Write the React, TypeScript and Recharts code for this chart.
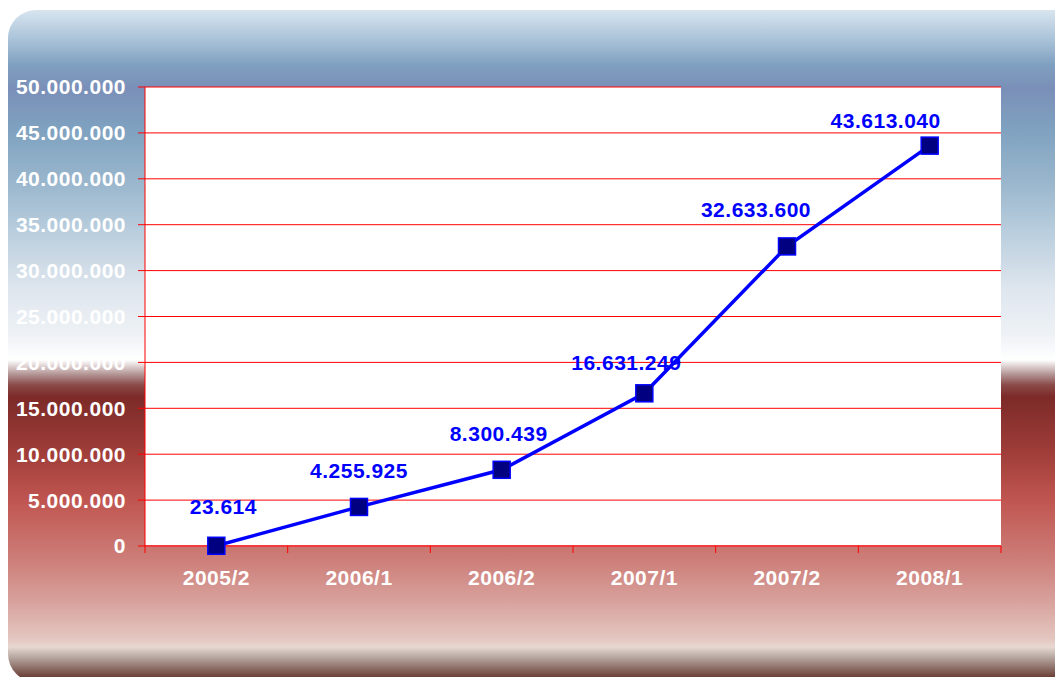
import { CartesianGrid, LabelList, Line, LineChart, XAxis, YAxis } from 'recharts'

const periods = ['2005/2', '2006/1', '2006/2', '2007/1', '2007/2', '2008/1']
const totals = [23614, 4255925, 8300439, 16631249, 32633600, 43613040]
const yTicks = [0, 5000000, 10000000, 15000000, 20000000, 25000000, 30000000, 35000000, 40000000, 45000000, 50000000]

const data = periods.map((p, i) => ({ period: p, total: totals[i] }))

const W = 1055
const H = 677
const PLOT_LEFT = 145
const PLOT_RIGHT = 1001
const BAND = (PLOT_RIGHT - PLOT_LEFT) / periods.length
const FONT = '"Liberation Sans", Arial, Helvetica, sans-serif'
const TEXT = { fontSize: 21, fontWeight: 'bold' as const, fontFamily: FONT, letterSpacing: 0.5 }

// excel put the labels a bit off-center, shift them by hand
const labelShift: [number, number][] = [
  [7, -39],
  [0, -36],
  [-3, -36],
  [-18, -31],
  [-31, -37],
  [-44, -25],
]

const fmt = (v: number) => String(v).replace(/\B(?=(\d{3})+(?!\d))/g, '.')

const bg =
  'linear-gradient(to bottom, #d8e5f0 0px, #a9c2d8 30px, #7fa0c0 55px, #7a8fb8 78px, #7fa2c0 120px, #98b5cc 170px, #b8cddd 220px, #dfe6ee 280px, #eef2f6 325px, #ffffff 350px, #b09090 365px, #8a4a48 375px, #7c2a28 387px, #9e3c38 440px, #c05550 490px, #cd7e79 550px, #d8a09b 590px, #e4c8c1 630px, #e8d8d2 637px, #b8a8a2 647px, #6a4038 667px, #5e3830 690px)'

function XTick(props: any) {
  const { x, y, payload, index } = props
  const last = index === periods.length - 1
  return (
    <g>
      <line x1={x - BAND / 2} x2={x - BAND / 2} y1={y} y2={y + 7} stroke="#ff0000" />
      {last && <line x1={x + BAND / 2} x2={x + BAND / 2} y1={y} y2={y + 7} stroke="#ff0000" />}
      <text x={x} y={y + 31} textAnchor="middle" dominantBaseline="central" fill="#ffffff" {...TEXT}>
        {payload.value}
      </text>
    </g>
  )
}

function SquareDot(props: any) {
  const { cx, cy } = props
  if (cx == null || cy == null) return null
  return <rect x={cx - 8.5} y={cy - 8.5} width={17} height={17} fill="#000080" stroke="#0000ff" strokeWidth={1.5} />
}

function ValueLabel(props: any) {
  const { x, y, value, index } = props
  const [dx, dy] = labelShift[index] || [0, -36]
  return (
    <text x={x + dx} y={y + dy} textAnchor="middle" dominantBaseline="central" fill="#0000ff" {...TEXT}>
      {fmt(value)}
    </text>
  )
}

export default function App() {
  return (
    <div style={{ position: 'absolute', left: 0, top: 0, width: W, height: H, overflow: 'hidden' }}>
      <div
        style={{
          position: 'absolute',
          left: 8,
          top: 10,
          width: 1075,
          height: 672,
          borderRadius: 28,
          background: bg,
        }}
      />
      <div style={{ position: 'absolute', left: 0, top: 0 }}>
        <LineChart width={W} height={H} data={data} margin={{ top: 87, right: W - PLOT_RIGHT, bottom: 91, left: 0 }}>
          <CartesianGrid vertical={false} stroke="#ff0000" fill="#ffffff" />
          <XAxis
            dataKey="period"
            scale="band"
            height={40}
            tickLine={false}
            tickSize={0}
            tickMargin={0}
            axisLine={{ stroke: '#f03c3c', strokeWidth: 2 }}
            tick={<XTick />}
            interval={0}
          />
          <YAxis
            width={PLOT_LEFT}
            domain={[0, 50000000]}
            ticks={yTicks}
            tickFormatter={fmt}
            tickSize={7}
            tickMargin={12}
            tickLine={{ stroke: '#ff0000' }}
            axisLine={{ stroke: '#ff0000' }}
            tick={{ fill: '#ffffff', ...TEXT }}
            interval={0}
          />
          <Line
            type="linear"
            dataKey="total"
            stroke="#0000ff"
            strokeWidth={3.5}
            dot={<SquareDot />}
            activeDot={false}
            isAnimationActive={false}
          >
            <LabelList dataKey="total" content={<ValueLabel />} />
          </Line>
        </LineChart>
      </div>
    </div>
  )
}
